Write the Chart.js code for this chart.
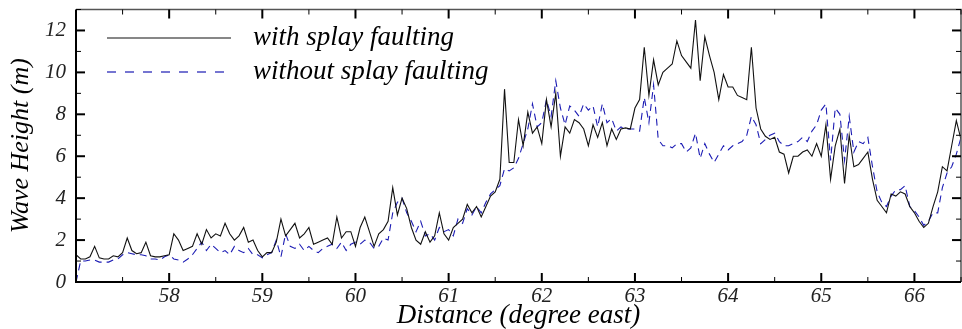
<!DOCTYPE html>
<html>
<head>
<meta charset="utf-8">
<script src="https://cdn.jsdelivr.net/npm/chart.js@4.4.1/dist/chart.umd.min.js"></script>
<style>
  html, body { margin: 0; padding: 0; background: #fff; }
</style>
</head>
<body>
<canvas id="waveChart" width="962" height="329"></canvas>
<script>
// 距離 (degree east) — 0.05度ごとのサンプル
const distance = [
  57.00, 57.05, 57.10, 57.15, 57.20, 57.25, 57.30, 57.35, 57.40, 57.45,
  57.50, 57.55, 57.60, 57.65, 57.70, 57.75, 57.80, 57.85, 57.90, 57.95,
  58.00, 58.05, 58.10, 58.15, 58.20, 58.25, 58.30, 58.35, 58.40, 58.45,
  58.50, 58.55, 58.60, 58.65, 58.70, 58.75, 58.80, 58.85, 58.90, 58.95,
  59.00, 59.05, 59.10, 59.15, 59.20, 59.25, 59.30, 59.35, 59.40, 59.45,
  59.50, 59.55, 59.60, 59.65, 59.70, 59.75, 59.80, 59.85, 59.90, 59.95,
  60.00, 60.05, 60.10, 60.15, 60.20, 60.25, 60.30, 60.35, 60.40, 60.45,
  60.50, 60.55, 60.60, 60.65, 60.70, 60.75, 60.80, 60.85, 60.90, 60.95,
  61.00, 61.05, 61.10, 61.15, 61.20, 61.25, 61.30, 61.35, 61.40, 61.45,
  61.50, 61.55, 61.60, 61.65, 61.70, 61.75, 61.80, 61.85, 61.90, 61.95,
  62.00, 62.05, 62.10, 62.15, 62.20, 62.25, 62.30, 62.35, 62.40, 62.45,
  62.50, 62.55, 62.60, 62.65, 62.70, 62.75, 62.80, 62.85, 62.90, 62.95,
  63.00, 63.05, 63.10, 63.15, 63.20, 63.25, 63.30, 63.35, 63.40, 63.45,
  63.50, 63.55, 63.60, 63.65, 63.70, 63.75, 63.80, 63.85, 63.90, 63.95,
  64.00, 64.05, 64.10, 64.15, 64.20, 64.25, 64.30, 64.35, 64.40, 64.45,
  64.50, 64.55, 64.60, 64.65, 64.70, 64.75, 64.80, 64.85, 64.90, 64.95,
  65.00, 65.05, 65.10, 65.15, 65.20, 65.25, 65.30, 65.35, 65.40, 65.45,
  65.50, 65.55, 65.60, 65.65, 65.70, 65.75, 65.80, 65.85, 65.90, 65.95,
  66.00, 66.05, 66.10, 66.15, 66.20, 66.25, 66.30, 66.35, 66.40, 66.45,
  66.50
];

// with splay faulting (m)
const withSplay = [
  1.3, 1.1, 1.1, 1.2, 1.7, 1.15, 1.1, 1.1, 1.25, 1.2,
  1.4, 2.1, 1.5, 1.35, 1.4, 1.9, 1.25, 1.2, 1.2, 1.25,
  1.3, 2.3, 2.0, 1.5, 1.6, 1.7, 2.3, 1.8, 2.5, 2.1,
  2.3, 2.2, 2.8, 2.3, 2.0, 2.2, 2.6, 1.9, 2.0, 1.5,
  1.2, 1.4, 1.4, 1.9, 3.0, 2.2, 2.5, 2.8, 2.1, 2.3,
  2.6, 1.8, 1.9, 2.0, 2.1, 1.8, 3.1, 2.1, 2.4, 2.4,
  1.7, 2.6, 3.1, 2.4, 1.7, 2.3, 2.5, 2.9, 4.5, 3.2,
  4.0, 3.5, 2.6, 2.0, 1.8, 2.4, 1.9, 2.2, 3.3, 2.3,
  2.0, 2.6, 2.8, 3.0, 3.7, 3.3, 3.6, 3.1, 3.6, 4.1,
  4.3, 4.9, 9.2, 5.7, 5.7, 7.75, 6.5, 8.1, 7.1, 7.4,
  6.6, 8.7, 7.4, 9.0, 6.0, 7.4, 7.1, 7.75, 7.6, 7.3,
  6.5, 7.5, 6.9, 7.6, 6.5, 7.3, 6.8, 7.3, 7.35, 7.3,
  8.3, 8.7, 11.2, 8.9, 10.6, 9.4, 10.0, 10.2, 10.4, 11.5,
  10.8, 10.5, 10.2, 12.5, 9.6, 11.7, 10.8, 10.0, 8.7, 9.9,
  9.3, 9.3, 8.9, 8.8, 8.7, 11.2, 8.3, 7.3, 6.95, 6.8,
  6.9, 6.2, 6.1, 5.2, 6.0, 6.0, 6.2, 6.3, 6.0, 6.6,
  6.0, 7.5, 4.9, 6.5, 7.3, 4.7, 7.0, 5.5, 5.6, 5.9,
  6.2, 4.9, 3.9, 3.6, 3.3, 4.2, 4.1, 4.3, 4.2, 3.6,
  3.3, 2.9, 2.6, 2.8, 3.6, 4.3, 5.5, 5.3, 6.5, 7.7,
  6.8
];

// without splay faulting (m)
const withoutSplay = [
  0.0, 1.0, 1.0, 1.05, 1.05, 0.95, 0.95, 0.95, 1.05, 1.1,
  1.3, 1.4, 1.35, 1.3, 1.3, 1.25, 1.1, 1.1, 1.05, 1.2,
  1.3, 1.1, 1.05, 0.95, 1.1, 1.3, 1.6, 1.9, 1.5, 1.8,
  1.6, 1.4, 1.5, 1.3, 1.7, 1.5, 1.4, 1.6, 1.3, 1.3,
  1.15, 1.3, 1.4, 2.0, 1.2, 2.3, 1.7, 1.6, 1.8, 1.5,
  1.7, 1.5, 1.4, 1.6, 1.7, 1.8, 1.6, 1.9, 1.5, 1.8,
  1.9, 1.8, 2.0, 1.9, 1.6, 1.7, 2.1, 2.0, 3.3, 3.8,
  4.0, 3.3, 2.9, 2.4, 2.9, 2.2, 2.3, 2.0, 2.6, 2.4,
  2.5, 2.2, 3.0, 2.8, 3.5, 3.2, 3.6, 3.3, 3.8, 4.2,
  4.4, 4.6, 5.4, 5.3, 5.45, 5.9, 6.6, 7.3, 8.5, 7.4,
  7.6, 8.7, 7.9, 9.6, 8.3, 7.5, 8.4, 8.2, 7.9, 8.5,
  8.2, 8.4, 7.4, 8.5, 7.6, 7.8, 7.2, 7.4, 7.3, 7.3,
  7.3, 7.2, 8.8, 7.6, 9.4, 6.8, 6.5, 6.5, 6.4, 6.6,
  6.6, 6.2, 6.4, 7.1, 5.9, 6.6, 6.1, 5.7, 6.1, 6.5,
  6.3, 6.5, 6.6, 6.7, 7.0, 7.9, 7.5, 6.6, 6.8, 7.0,
  7.1, 6.7, 6.5, 6.5, 6.6, 6.7, 6.9, 6.7, 7.2, 7.5,
  8.2, 8.5, 5.8, 8.3, 8.0, 5.8, 7.9, 6.2, 6.7, 6.6,
  6.9, 5.5, 4.3, 3.8, 3.6, 4.1, 4.4, 4.4, 4.6, 3.6,
  3.4, 3.1, 2.7, 2.9, 3.3, 3.3, 4.5, 5.2, 5.5, 6.1,
  6.9
];

const seriesLabels = ['with splay faulting', 'without splay faulting'];

// 目盛り
const xMajorTicks = [58, 59, 60, 61, 62, 63, 64, 65, 66];
const xMinorTicks = [57.5, 58.5, 59.5, 60.5, 61.5, 62.5, 63.5, 64.5, 65.5, 66.5];
const yMajorTicks = [0, 2, 4, 6, 8, 10, 12];
const yMinorTicks = [1, 3, 5, 7, 9, 11, 13];

const FONT = "'Liberation Serif', 'Times New Roman', serif";
const BLACK = '#111111';
const BLUE = '#1c1cb4';

/**
 * 枠線・内向き目盛り・凡例を描く
 */
const frameAndLegend = {
    id: 'frameAndLegend',
    afterDatasetsDraw(chart) {
        const { ctx, chartArea: a, scales: { x, y } } = chart;
        ctx.save();

        // 枠 (上・右はグレー、左・下は黒)
        ctx.strokeStyle = '#555';
        ctx.lineWidth = 1.5;
        ctx.beginPath();
        ctx.moveTo(a.left, a.top);
        ctx.lineTo(a.right, a.top);
        ctx.lineTo(a.right, a.bottom);
        ctx.stroke();
        ctx.strokeStyle = '#000';
        ctx.lineWidth = 2;
        ctx.beginPath();
        ctx.moveTo(a.left, a.top);
        ctx.lineTo(a.left, a.bottom);
        ctx.lineTo(a.right, a.bottom);
        ctx.stroke();

        const mark = (x1, y1, x2, y2, w) => {
            ctx.lineWidth = w;
            ctx.beginPath();
            ctx.moveTo(x1, y1);
            ctx.lineTo(x2, y2);
            ctx.stroke();
        };

        ctx.strokeStyle = '#000';
        xMajorTicks.forEach(v => {
            const px = x.getPixelForValue(v);
            mark(px, a.bottom, px, a.bottom - 9, 2);
            mark(px, a.top, px, a.top + 9, 2);
        });
        xMinorTicks.forEach(v => {
            const px = x.getPixelForValue(v);
            mark(px, a.bottom, px, a.bottom - 5, 1);
            mark(px, a.top, px, a.top + 5, 1);
        });
        yMajorTicks.forEach(v => {
            const py = y.getPixelForValue(v);
            mark(a.left, py, a.left + 9, py, 2);
            mark(a.right, py, a.right - 9, py, 2);
        });
        yMinorTicks.forEach(v => {
            const py = y.getPixelForValue(v);
            mark(a.left, py, a.left + 5, py, 1);
            mark(a.right, py, a.right - 5, py, 1);
        });

        // 凡例
        const rows = [
            { ds: chart.data.datasets[0], y: 38 },
            { ds: chart.data.datasets[1], y: 72 }
        ];
        rows.forEach(r => {
            ctx.strokeStyle = r.ds.borderColor;
            ctx.lineWidth = 1.2;
            ctx.setLineDash(r.ds.borderDash ? [9, 9] : []);
            ctx.beginPath();
            ctx.moveTo(107, r.y);
            ctx.lineTo(231, r.y);
            ctx.stroke();
            ctx.setLineDash([]);
            ctx.fillStyle = '#000';
            ctx.font = 'italic 27px ' + FONT;
            ctx.textBaseline = 'middle';
            ctx.textAlign = 'left';
            ctx.fillText(r.ds.label, 253, r.y);
        });

        ctx.restore();
    }
};

const ctx = document.getElementById('waveChart').getContext('2d');
new Chart(ctx, {
    type: 'line',
    data: {
        labels: distance,
        datasets: [
            {
                label: seriesLabels[0],
                data: distance.map((d, i) => ({ x: d, y: withSplay[i] })),
                borderColor: BLACK,
                borderWidth: 1.1,
                pointRadius: 0,
                tension: 0,
                fill: false
            },
            {
                label: seriesLabels[1],
                data: distance.map((d, i) => ({ x: d, y: withoutSplay[i] })),
                borderColor: BLUE,
                borderWidth: 1.1,
                borderDash: [7, 5],
                pointRadius: 0,
                tension: 0,
                fill: false
            }
        ]
    },
    options: {
        responsive: false,
        animation: false,
        devicePixelRatio: 1,
        layout: { padding: { top: 9.5, right: 1, left: 0, bottom: 0 } },
        plugins: {
            legend: { display: false },
            tooltip: { enabled: false }
        },
        scales: {
            x: {
                type: 'linear',
                min: 57,
                max: 66.5,
                afterBuildTicks: s => { s.ticks = xMajorTicks.map(v => ({ value: v })); },
                afterFit: s => { s.height = 47; s.paddingLeft = 0; s.paddingRight = 0; },
                grid: { display: false, drawTicks: false },
                border: { display: false },
                ticks: {
                    color: '#222',
                    padding: 2,
                    maxRotation: 0,
                    font: { family: FONT, size: 21, style: 'italic' }
                },
                title: {
                    display: true,
                    text: 'Distance (degree east)',
                    color: '#000',
                    padding: { top: 1, bottom: 0 },
                    font: { family: FONT, size: 27, style: 'italic', lineHeight: 1 }
                }
            },
            y: {
                min: 0,
                max: 13,
                afterBuildTicks: s => { s.ticks = yMajorTicks.map(v => ({ value: v })); },
                afterFit: s => { s.width = 76; s.paddingTop = 0; s.paddingBottom = 0; },
                grid: { display: false, drawTicks: false },
                border: { display: false },
                ticks: {
                    color: '#222',
                    padding: 10,
                    font: { family: FONT, size: 21, style: 'italic' }
                },
                title: {
                    display: true,
                    text: 'Wave Height (m)',
                    color: '#000',
                    padding: { top: 8, bottom: 0 },
                    font: { family: FONT, size: 26, style: 'italic', lineHeight: 1 }
                }
            }
        }
    },
    plugins: [frameAndLegend]
});
</script>
</body>
</html>
